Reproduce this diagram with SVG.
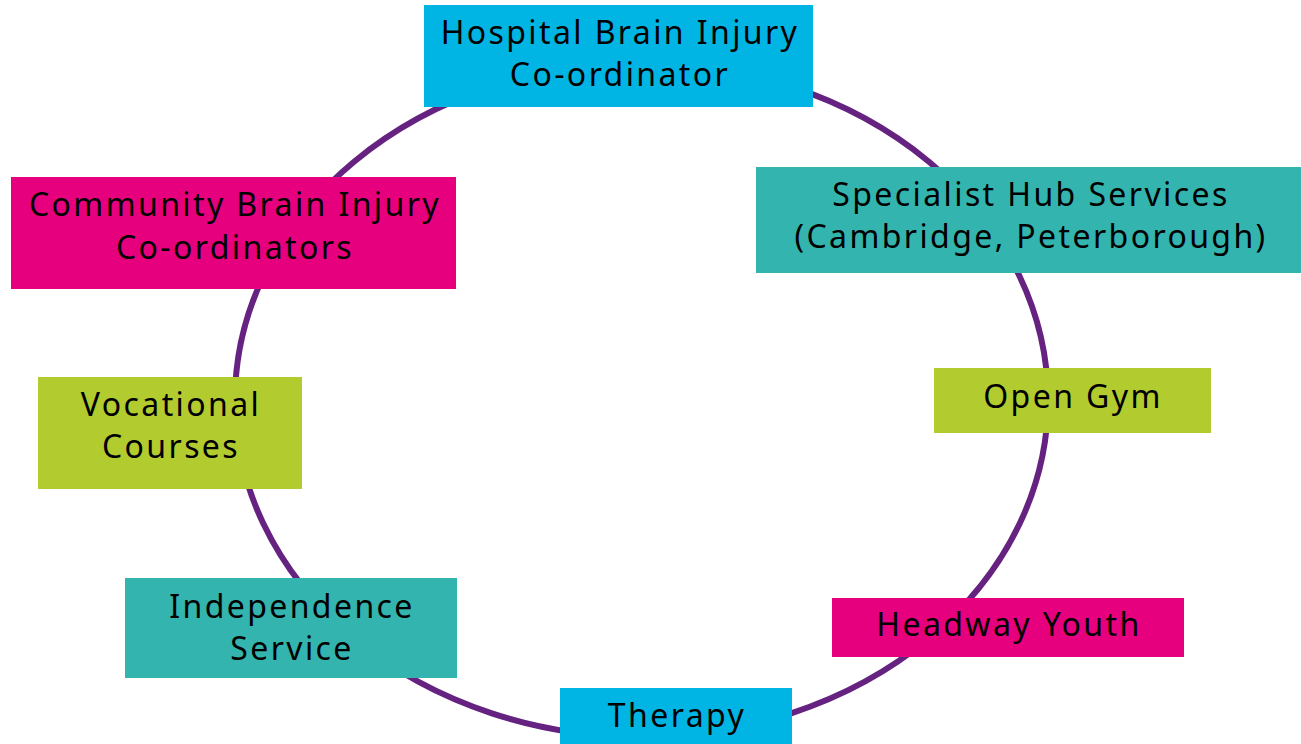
<svg xmlns="http://www.w3.org/2000/svg" width="1301" height="744" viewBox="0 0 1301 744">
<style>
text{font-family:"Noto Sans","Open Sans","DejaVu Sans",sans-serif;font-size:32px;letter-spacing:2.4px;fill:#000;text-anchor:middle}
.cyan{fill:#00b4e4}.mag{fill:#e6007e}.lime{fill:#b2cb2e}.teal{fill:#33b4ae}
.ring{fill:none;stroke:#662280;stroke-width:6}
</style>
<rect width="1301" height="744" fill="#fff"/>
<g id="connectors">
<ellipse class="ring" cx="641.5" cy="400" rx="406.5" ry="337"/>
</g>
<g id="hospital"><rect class="cyan" x="424" y="5" width="389" height="102"/><text x="620" y="44">Hospital Brain Injury</text><text x="620" y="86">Co-ordinator</text></g>
<g id="specialist"><rect class="teal" x="756" y="167" width="545" height="106"/><text x="1031" y="206">Specialist Hub Services</text><text x="1031" y="248">(Cambridge, Peterborough)</text></g>
<g id="opengym"><rect class="lime" x="934" y="368" width="277" height="65"/><text x="1073" y="408">Open Gym</text></g>
<g id="headway"><rect class="mag" x="832" y="598" width="352" height="59"/><text x="1009" y="636">Headway Youth</text></g>
<g id="therapy"><rect class="cyan" x="560" y="688" width="232" height="56"/><text x="677" y="727">Therapy</text></g>
<g id="independence"><rect class="teal" x="125" y="578" width="332" height="100"/><text x="292" y="618">Independence</text><text x="292" y="660">Service</text></g>
<g id="vocational"><rect class="lime" x="38" y="377" width="264" height="112"/><text x="171" y="416">Vocational</text><text x="171" y="458">Courses</text></g>
<g id="community"><rect class="mag" x="11" y="177" width="445" height="112"/><text x="235" y="216">Community Brain Injury</text><text x="235" y="259">Co-ordinators</text></g>
</svg>
